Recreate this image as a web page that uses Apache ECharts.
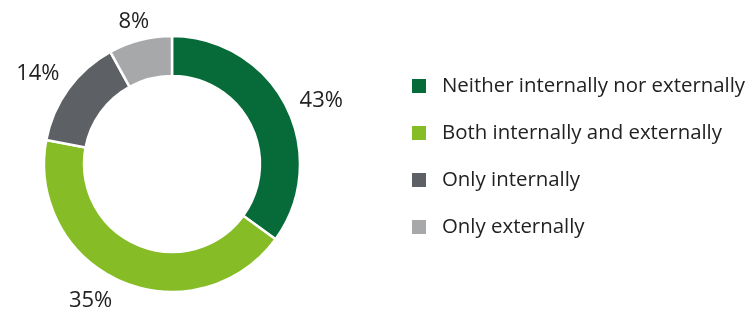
<!DOCTYPE html>
<html>
<head>
<meta charset="utf-8">
<script src="https://cdn.jsdelivr.net/npm/echarts@6/dist/echarts.min.js"></script>
<style>
  html, body { margin: 0; padding: 0; background: #fff; }
  #main { width: 747px; height: 311px; }
</style>
</head>
<body>
<div id="main"></div>
<script>
// categories, in the order they appear clockwise from 12 o'clock
var categories = ['Neither internally nor externally', 'Both internally and externally', 'Only internally', 'Only externally']
// arc sizes as drawn in the picture
var shares = [35, 43, 14, 8]
// percentage labels as printed beside each segment
var labelText = ['43%', '35%', '14%', '8%']
var colors = ['#076b39', '#86bc25', '#5d6166', '#a7a8aa']

var CENTER = [172, 164]
var LABEL_R = 138 // labels sit just outside the ring, along each slice's mid angle
// small hand tweaks so the labels land where the original put them
var labelNudge = [[7, 4], [-18, 0], [-5, -3], [0, 2]]

var chartDom = document.getElementById('main')
var myChart = echarts.init(chartDom)

var total = shares.reduce(function (a, b) { return a + b }, 0)
var midAngles = []
var acc = 0
shares.forEach(function (v) {
  midAngles.push((acc + v / 2) / total * Math.PI * 2)
  acc += v
})

var pieData = categories.map(function (name, i) {
  return { name: name, value: shares[i] }
})

var option = {
  animation: false,
  color: colors,
  textStyle: {
    fontFamily: 'Open Sans'
  },
  legend: {
    orient: 'vertical',
    left: 405,
    top: 71,
    itemWidth: 16,
    itemHeight: 16,
    itemGap: 27,
    icon: 'rect',
    data: categories,
    textStyle: {
      color: '#222',
      fontSize: 20.4,
      padding: [0, 0, 0, 10]
    }
  },
  series: [
    {
      name: 'Segments',
      type: 'pie',
      center: CENTER,
      radius: [88, 128],
      startAngle: 90,
      clockwise: true,
      silent: true,
      avoidLabelOverlap: false,
      itemStyle: {
        borderColor: '#fff',
        borderWidth: 2.5
      },
      label: {
        show: true,
        position: 'outside',
        color: '#222',
        fontSize: 22,
        formatter: function (p) {
          return labelText[p.dataIndex]
        }
      },
      labelLine: { show: false },
      // put each label box just beyond the ring, pushed out by half its own size
      labelLayout: function (params) {
        var i = params.dataIndex
        var a = midAngles[i]
        var dx = Math.sin(a)
        var dy = -Math.cos(a)
        var w = params.labelRect.width
        var h = params.labelRect.height
        return {
          x: CENTER[0] + dx * LABEL_R + dx * w / 2 + labelNudge[i][0],
          y: CENTER[1] + dy * LABEL_R + dy * h / 2 + labelNudge[i][1],
          align: 'center',
          verticalAlign: 'middle'
        }
      },
      data: pieData
    }
  ]
}
option && myChart.setOption(option)
</script>
</body>
</html>
